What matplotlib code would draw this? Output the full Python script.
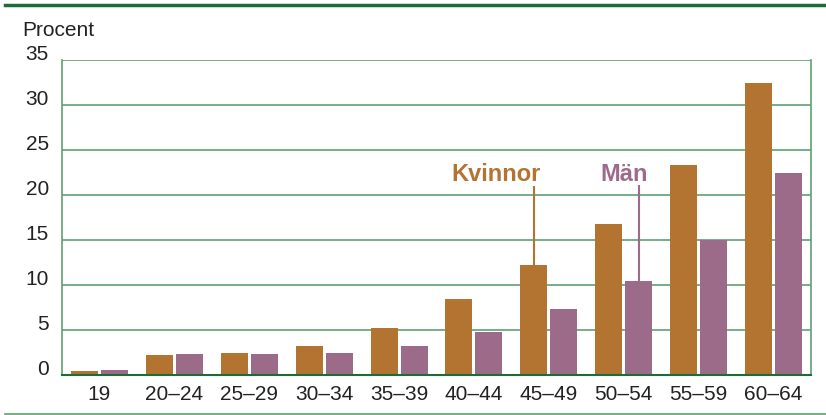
import matplotlib
matplotlib.use("Agg")
import matplotlib.pyplot as plt
import numpy as np
from matplotlib.lines import Line2D

plt.rcParams["font.family"] = ["Liberation Sans", "DejaVu Sans"]

ages = ["19", "20–24", "25–29", "30–34", "35–39", "40–44", "45–49", "50–54", "55–59", "60–64"]
kvinnor = [0.45, 2.2, 2.45, 3.2, 5.2, 8.45, 12.2, 16.8, 23.3, 32.4]
man = [0.55, 2.35, 2.35, 2.45, 3.2, 4.8, 7.3, 10.45, 15.0, 22.4]

c_kv = "#b37432"
c_man = "#9c6b8a"
c_grid = "#5f9f74"
c_dark = "#1e6b3a"

fig = plt.figure(figsize=(8.26, 4.15), dpi=100)
ax = fig.add_axes([0.0751, 0.0964, 0.9067, 0.759])

x = np.arange(len(ages))
w = 0.36
ax.bar(x - 0.2, kvinnor, w, color=c_kv, zorder=2)
ax.bar(x + 0.2, man, w, color=c_man, zorder=2)

ax.set_xlim(-0.5, len(ages) - 0.5)
ax.set_ylim(0, 35)
ax.set_yticks(range(0, 36, 5))
for yv in range(5, 36, 5):
    ax.axhline(yv, color=c_grid, lw=1.2, zorder=1)
ax.set_xticks(x)
ax.set_xticklabels(ages)
ax.tick_params(length=0, labelsize=15, colors="#222222")
ax.tick_params(axis="x", pad=7)
ax.tick_params(axis="y", pad=9.5)
for lbl in ax.get_yticklabels():
    lbl.set_va("baseline")

for s in ["left", "right"]:
    ax.spines[s].set_color(c_grid)
    ax.spines[s].set_linewidth(1.2)
ax.spines["top"].set_visible(False)
ax.spines["bottom"].set_color(c_dark)
ax.spines["bottom"].set_linewidth(1.5)

fig.text(22 / 826, 1 - 30 / 415, "Procent", fontsize=15, va="center", ha="left", color="#222222")

# annotations
ax.text(5.3, 22.3, "Kvinnor", color=c_kv, fontsize=17, fontweight="bold", ha="center", va="center")
ax.plot([6 - 0.2, 6 - 0.2], [kvinnor[6], 20.9], color=c_kv, lw=1.5, zorder=3)
ax.text(7.0, 22.3, "Män", color=c_man, fontsize=17, fontweight="bold", ha="center", va="center")
ax.plot([7 + 0.2, 7 + 0.2], [man[7], 21.0], color=c_man, lw=1.5, zorder=3)

# frame lines
fig.add_artist(Line2D([5 / 826, 1], [1 - 5 / 415, 1 - 5 / 415], color=c_dark, lw=2.5))
fig.add_artist(Line2D([5 / 826, 1], [1 - 414 / 415, 1 - 414 / 415], color=c_grid, lw=1.2))

fig.savefig("out.png", dpi=100)
